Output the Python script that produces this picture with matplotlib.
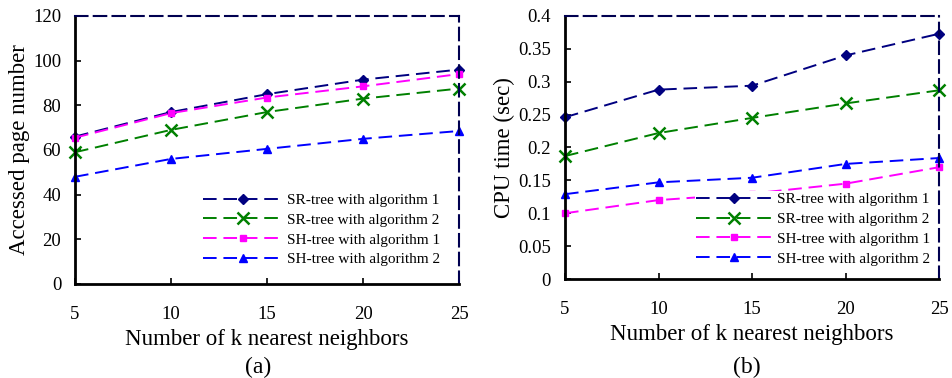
import matplotlib
matplotlib.use("Agg")
import matplotlib.pyplot as plt

plt.rcParams['font.family'] = ['Liberation Serif', 'DejaVu Serif']

k_values = [5, 10, 15, 20, 25]

# (a) accessed pages
pages_sr1 = [66, 77, 85, 91.5, 96]
pages_sr2 = [59, 69, 77, 83, 87.5]
pages_sh1 = [65.5, 76.5, 83.5, 88.5, 94]
pages_sh2 = [48, 56, 60.5, 65, 68.5]

# (b) cpu time
cpu_sr1 = [0.246, 0.288, 0.294, 0.340, 0.373]
cpu_sr2 = [0.187, 0.222, 0.245, 0.267, 0.287]
cpu_sh1 = [0.100, 0.120, 0.130, 0.145, 0.170]
cpu_sh2 = [0.129, 0.147, 0.154, 0.175, 0.184]

labels = ['SR-tree with algorithm 1', 'SR-tree with algorithm 2',
          'SH-tree with algorithm 1', 'SH-tree with algorithm 2']
colors = ['#000080', '#008000', '#FF00FF', '#0000FF']
markers = ['D', 'x', 's', '^']
msizes = [5, 9, 5, 6]

fig = plt.figure(figsize=(9.52, 3.78), dpi=100)
ax_a = fig.add_axes([0.0788, 0.2487, 0.4034, 0.709])
ax_b = fig.add_axes([0.5935, 0.2619, 0.393, 0.6958])


def draw(ax, series, ylim, yticks, ytick_labels, ylabel, caption, cap_x, legend_anchor, hlen):
    for y, lab, c, m, ms in zip(series, labels, colors, markers, msizes):
        ax.plot(k_values, y, color=c, marker=m, markersize=ms, linewidth=1.4,
                dashes=(7, 3.5), label=lab, clip_on=False, zorder=2.2,
                markeredgewidth=1.8 if m == 'x' else 1)
    ax.set_xlim(5, 25)
    ax.set_ylim(*ylim)
    ax.set_xticks(k_values)
    ax.set_yticks(yticks)
    ax.set_yticklabels(ytick_labels)
    ax.tick_params(direction='in', length=4, width=1.2, labelsize=13.5)
    ax.tick_params(axis='x', pad=16)
    ax.tick_params(axis='y', pad=10)
    ax.set_ylabel(ylabel, fontsize=16.5, labelpad=2)
    ax.set_xlabel('Number of k nearest neighbors', fontsize=16.5, labelpad=4)
    for s in ['left', 'bottom']:
        ax.spines[s].set_linewidth(2)
        ax.spines[s].set_color('black')
    for s in ['top', 'right']:
        ax.spines[s].set_linewidth(1.5)
        ax.spines[s].set_color('#000050')
        ax.spines[s].set_linestyle((0, (6, 3)))
    leg = ax.legend(loc='lower right', bbox_to_anchor=legend_anchor, frameon=True,
                    fontsize=11, handlelength=hlen, handletextpad=0.3, labelspacing=0.4,
                    borderaxespad=0, borderpad=0.1, fancybox=False)
    leg.get_frame().set_edgecolor('none')
    leg.get_frame().set_facecolor('white')
    leg.get_frame().set_alpha(1)
    leg.set_zorder(5)
    fig.text(cap_x, 0.029, caption, ha='center', va='center', fontsize=17)


draw(ax_a, [pages_sr1, pages_sr2, pages_sh1, pages_sh2], (0, 120),
     [0, 20, 40, 60, 80, 100, 120], ['0', '20', '40', '60', '80', '100', '120'],
     'Accessed page number', '(a)', 0.271, (0.955, 0.06), 5.2)
draw(ax_b, [cpu_sr1, cpu_sr2, cpu_sh1, cpu_sh2], (0, 0.4),
     [0, 0.05, 0.1, 0.15, 0.2, 0.25, 0.3, 0.35, 0.4],
     ['0', '0.05', '0.1', '0.15', '0.2', '0.25', '0.3', '0.35', '0.4'],
     'CPU time (sec)', '(b)', 0.784, (0.98, 0.045), 5.0)

fig.savefig('out.png', dpi=100)
